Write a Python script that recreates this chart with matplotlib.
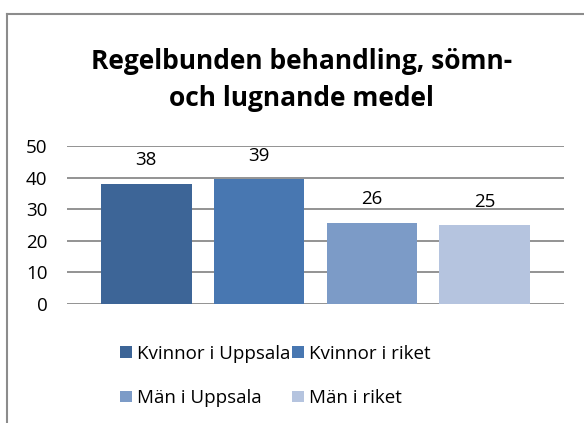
import matplotlib.pyplot as plt
from matplotlib.lines import Line2D
from matplotlib.patches import Patch

series = ["Kvinnor i Uppsala", "Kvinnor i riket", "Män i Uppsala", "Män i riket"]
values = [38.0, 39.4, 25.6, 24.9]
labels = ["38", "39", "26", "25"]
colors = ["#3D6597", "#4877B1", "#7C9BC7", "#B5C4DF"]
yticks = [0, 10, 20, 30, 40, 50]

W, H = 584, 423
fig = plt.figure(figsize=(W / 100, H / 100), dpi=100, facecolor="white")
plt.rcParams["font.family"] = ["Open Sans", "DejaVu Sans"]

# plot area in pixels: x 67..564, y 146..304
ax = fig.add_axes([67 / W, 1 - 304 / H, (564 - 67) / W, (304 - 146) / H])
x = list(range(len(series)))
ax.bar(x, values, width=0.805, color=colors, zorder=3)
for xi, v, lab in zip(x, values, labels):
    ax.annotate(lab, (xi, v), xytext=(0, 17), textcoords="offset points",
                ha="center", va="center", fontsize=13.5, color="black")

ax.set_xlim(-0.7, 3.7)
ax.set_ylim(0, 50)
ax.set_yticks(yticks)
ax.set_xticks([])
ax.yaxis.grid(True, color="#8a8a8a", linewidth=1.3, zorder=0)
ax.tick_params(axis="y", length=0, labelsize=13.5, pad=14)
for s in ax.spines.values():
    s.set_visible(False)

fig.text(0.516, 1 - 80 / H, "Regelbunden behandling, sömn-\noch lugnande medel",
         ha="center", va="center", fontsize=19, fontweight="bold", linespacing=1.45)

# legend filled row by row, like the original
order = [0, 2, 1, 3]
handles = [Patch(facecolor=colors[i], edgecolor="none") for i in order]
fig.legend(handles, [series[i] for i in order], ncol=2, loc="center",
           bbox_to_anchor=(0.472, 1 - 376 / H), frameon=False, fontsize=13.5,
           handlelength=0.6, handleheight=0.6, handletextpad=0.3,
           columnspacing=0.1, labelspacing=1.4)

# outer chart border (left and top edges visible)
fig.add_artist(Line2D([7 / W, 7 / W], [0, 1 - 14 / H], color="#8c8c8c", linewidth=1.5,
                      transform=fig.transFigure))
fig.add_artist(Line2D([7 / W, 1], [1 - 14 / H, 1 - 14 / H], color="#8c8c8c", linewidth=1.5,
                      transform=fig.transFigure))

fig.savefig("out.png", dpi=100)
